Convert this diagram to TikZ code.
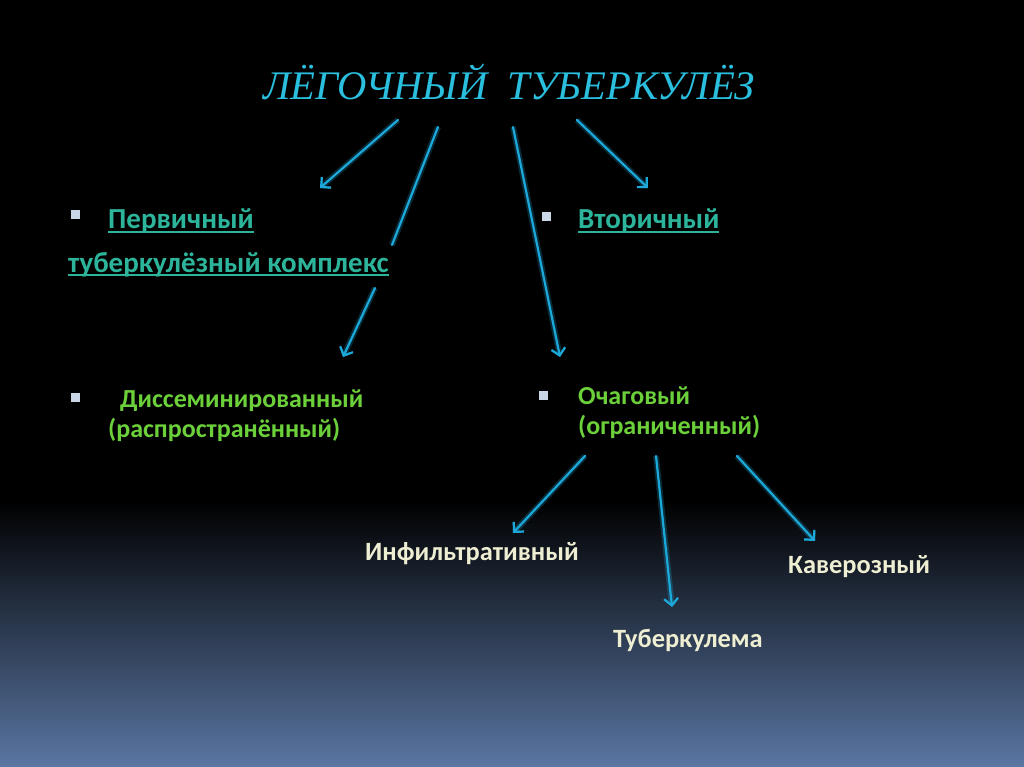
\documentclass[tikz,border=0pt]{standalone}
\usepackage{fontspec}
\setmainfont{Carlito}
\newfontfamily\titlefont{Liberation Serif}
\usetikzlibrary{arrows.meta}
\definecolor{bgbot}{HTML}{5A76A3}
\definecolor{arrowc}{HTML}{1CA9DA}
\definecolor{titlec}{HTML}{2BBFDF}
\definecolor{tealc}{HTML}{2DB59C}
\definecolor{greenc}{HTML}{6CD03A}
\definecolor{creamc}{HTML}{EEEED2}
\definecolor{bulletc}{HTML}{C8D6E6}
\newcommand\myul[1]{\setbox0=\hbox{#1}\rlap{\rule[-3.5pt]{\wd0}{1.4pt}}\box0}
\tikzset{
  link/.style={draw=arrowc, line width=2.2pt, line cap=round,
    preaction={draw=arrowc, line width=6pt, opacity=0.25}},
  linkarrow/.style={link, -{Straight Barb[length=7pt,width=14pt,line width=2.2pt]}},
  toptext/.style={anchor=base west, inner sep=0pt, text=tealc, font=\bfseries\fontsize{29}{31}\selectfont},
  greentext/.style={anchor=base west, inner sep=0pt, text=greenc, font=\bfseries\fontsize{26}{28}\selectfont},
  leaftext/.style={anchor=base west, inner sep=0pt, text=creamc, font=\bfseries\fontsize{26.4}{28}\selectfont},
  bulletsq/.style={fill=bulletc, minimum size=9pt, inner sep=0pt, draw=none}
}
\begin{document}
\begin{tikzpicture}[x=1pt,y=-1pt]
\useasboundingbox (0,0) rectangle (1024,767);
\fill[black] (0,0) rectangle (1024,500);
\shade[top color=black, bottom color=bgbot] (0,500) rectangle (1024,767);

% title
\node[anchor=base, inner sep=0pt, text=titlec, font=\titlefont\itshape\fontsize{40.6}{42}\selectfont] (title) at (509,100) {ЛЁГОЧНЫЙ\ \ ТУБЕРКУЛЁЗ};

% bullets
\node[bulletsq] (b1) at (75,215) {};
\node[bulletsq] (b2) at (546,217) {};
\node[bulletsq] (b3) at (75,397) {};
\node[bulletsq] (b4) at (543,395) {};

% level 1
\node[toptext] (prim1) at (108,229) {\myul{Первичный}};
\node[toptext] (prim2) at (68,272) {\myul{туберкулёзный комплекс}};
\node[toptext] (sec) at (578,229) {\myul{Вторичный}};

% level 2
\node[greentext] (dis1) at (120,407) {Диссеминированный};
\node[greentext] (dis2) at (108,437) {(распространённый)};
\node[greentext] (foc1) at (578,404) {Очаговый};
\node[greentext] (foc2) at (578,434) {(ограниченный)};

% level 3
\node[leaftext] (inf) at (365,560) {Инфильтративный};
\node[leaftext] (kav) at (788,573) {Каверозный};
\node[leaftext] (tub) at (613,647) {Туберкулема};

% connector coordinates
\coordinate (t1) at (398,120);
\coordinate (e1) at (320,188);
\coordinate (t2) at (438,127);
\coordinate (m2a) at (392,245);
\coordinate (m2b) at (375,288);
\coordinate (e2) at (343,357);
\coordinate (t3) at (513,127);
\coordinate (e3) at (560,357);
\coordinate (t4) at (577,120);
\coordinate (e4) at (648,188);
\coordinate (f1) at (585,456);
\coordinate (g1) at (513,533);
\coordinate (f2) at (656,456);
\coordinate (g2) at (672,607);
\coordinate (f3) at (737,456);
\coordinate (g3) at (815,541);

\draw[linkarrow] (t1) -- (e1);
\draw[link] (t2) -- (m2a);
\draw[linkarrow] (m2b) -- (e2);
\draw[linkarrow] (t3) -- (e3);
\draw[linkarrow] (t4) -- (e4);
\draw[linkarrow] (f1) -- (g1);
\draw[linkarrow] (f2) -- (g2);
\draw[linkarrow] (f3) -- (g3);
\end{tikzpicture}
\end{document}
